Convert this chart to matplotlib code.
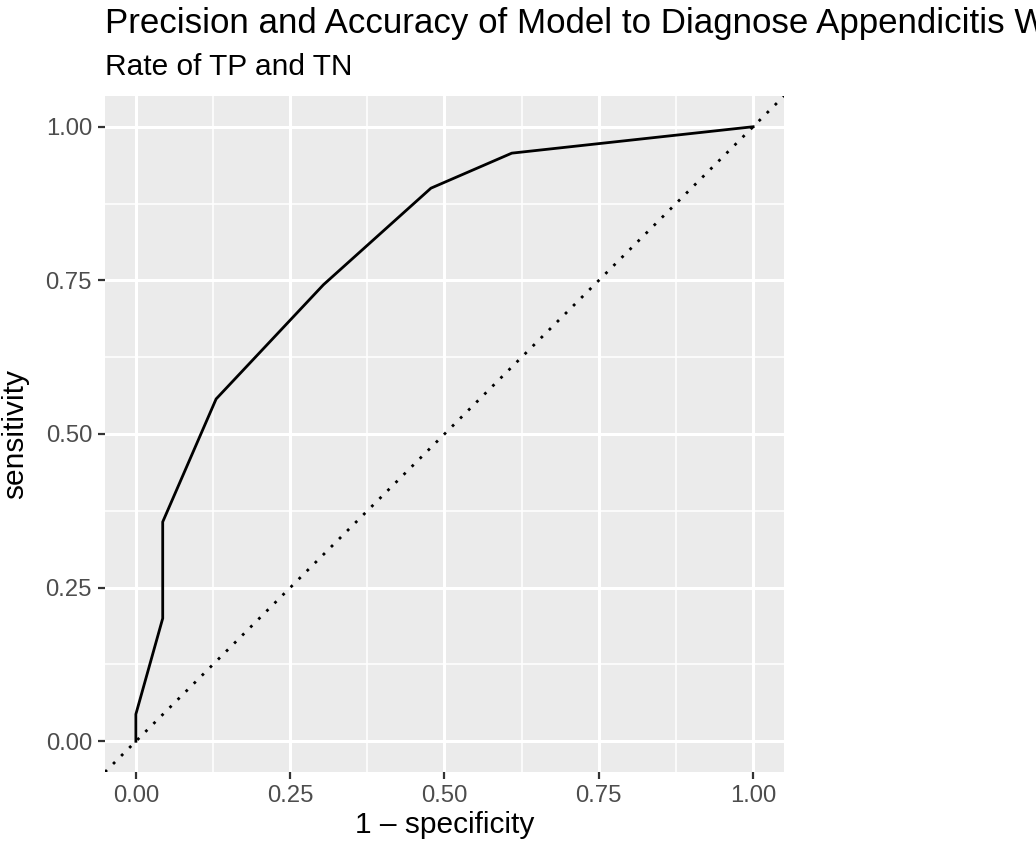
import matplotlib
matplotlib.use("Agg")
import matplotlib.pyplot as plt

plt.rcParams['font.family'] = ['Liberation Sans', 'DejaVu Sans']

# roc curve
fpr = [0.0, 0.0, 0.0435, 0.0435, 0.130, 0.304, 0.478, 0.609, 1.0]
tpr = [0.0, 0.044, 0.200, 0.357, 0.557, 0.743, 0.900, 0.957, 1.0]

ticks = [0.0, 0.25, 0.5, 0.75, 1.0]
minor_ticks = [0.125, 0.375, 0.625, 0.875]
tick_labels = ["0.00", "0.25", "0.50", "0.75", "1.00"]

title = "Precision and Accuracy of Model to Diagnose Appendicitis With Neutrophil Count"
subtitle = "Rate of TP and TN"

W, H = 1036, 844
fig = plt.figure(figsize=(W / 100, H / 100), dpi=100)
ax = fig.add_axes([105 / W, 1 - 772 / H, 679 / W, 676 / H])

ax.set_facecolor("#EBEBEB")
for s in ax.spines.values():
    s.set_visible(False)

ax.set_xlim(-0.05, 1.05)
ax.set_ylim(-0.05, 1.05)
ax.set_xticks(ticks)
ax.set_xticklabels(tick_labels)
ax.set_yticks(ticks)
ax.set_yticklabels(tick_labels)
ax.set_xticks(minor_ticks, minor=True)
ax.set_yticks(minor_ticks, minor=True)

ax.grid(which="major", color="white", linewidth=2.2)
ax.grid(which="minor", color="white", linewidth=1.1)
ax.set_axisbelow(True)
ax.tick_params(which="major", length=5, width=1.6, color="#333333",
               labelcolor="#4D4D4D", labelsize=17.2, pad=4.3)
ax.tick_params(which="minor", length=0)

# diagonal reference line (dotted, like lty 3)
ax.plot([-0.05, 1.05], [-0.05, 1.05], color="black", linewidth=2.0,
        linestyle=(0, (1, 3.1)))
ax.plot(fpr, tpr, color="black", linewidth=2.0)

ax.set_xlabel("1 \u2013 specificity", fontsize=21.5, labelpad=3)
ax.set_ylabel("sensitivity", fontsize=21.5, labelpad=12)

fig.text(105 / W, 1 - 33 / H, title, fontsize=25.1, ha="left", va="baseline")
fig.text(105 / W, 1 - 75 / H, subtitle, fontsize=21.5, ha="left", va="baseline")

fig.savefig("out.png", dpi=100)
